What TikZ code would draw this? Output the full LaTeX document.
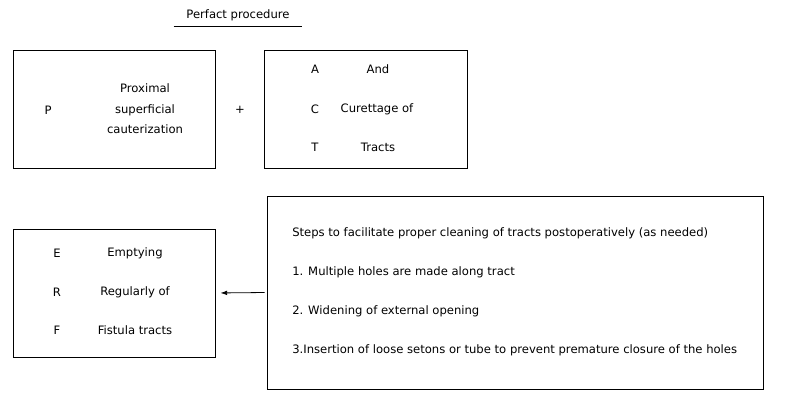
\documentclass[tikz,border=0pt]{standalone}
\usepackage{fontspec}
\setmainfont{DejaVu Sans}
\usetikzlibrary{positioning, arrows.meta}

\begin{document}
\begin{tikzpicture}[x=0.75pt, y=-0.75pt]
    \tikzset{%
        procbox/.style={draw, line width=0.7pt, inner sep=0pt},
        lbl/.style={font=\fontsize{8.7pt}{15.4pt}\selectfont, inner sep=0pt, align=center},
        steptxt/.style={lbl, anchor=west},
    }
    \useasboundingbox (0, 0) rectangle (800, 402);

    % title
    \node [lbl, inner xsep=9.4pt, inner ysep=4pt] (title) at (238, 15) {Perfact procedure};
    \draw [line width=0.6pt] (title.south west) -- (title.south east);

    % PACT boxes
    \node [procbox, minimum width=151.5pt, minimum height=88.5pt] (pbox) at (114, 109) {};
    \node [procbox, minimum width=152.25pt, minimum height=88.5pt] (actbox) at (365.5, 109) {};
    \node [lbl] (plus) at (240, 110) {+};

    \node [lbl] (pl) at (48, 110) {P};
    \node [lbl] (pt) at (145, 109) {Proximal\\superficial\\cauterization};

    \node [lbl] (al) at (315, 69) {A};
    \node [lbl] (at) at (378, 69) {And};
    \node [lbl] (cl) at (315, 109) {C};
    \node [lbl] (ct) at (377, 109) {Curettage of};
    \node [lbl] (tl) at (315, 147) {T};
    \node [lbl] (tt) at (378, 147) {Tracts};

    % ERF box
    \node [procbox, minimum width=151.5pt, minimum height=96pt] (erfbox) at (114, 293) {};
    \node [lbl] (el) at (57, 253) {E};
    \node [lbl] (et) at (135, 253) {Emptying};
    \node [lbl] (rl) at (57, 292) {R};
    \node [lbl] (rt) at (135, 292) {Regularly of};
    \node [lbl] (fl) at (57, 330) {F};
    \node [lbl] (ft) at (135, 330) {Fistula tracts};

    % steps box
    \node [procbox, minimum width=372pt, minimum height=144.75pt] (stepsbox) at (515, 292.5) {};
    \node [steptxt] (s0) at (292, 233) {Steps to facilitate proper cleaning of tracts postoperatively (as needed)};
    \node [steptxt] (s1) at (292, 272) {1. Multiple holes are made along tract};
    \node [steptxt] (s2) at (292, 311) {2. Widening of external opening};
    \node [steptxt] (s3) at (292, 350) {3.Insertion of loose setons or tube to prevent premature closure of the holes};

    \draw [-{Latex[length=5pt, width=3.5pt]}, line width=0.6pt, shorten <=1.5pt, shorten >=3.75pt] (stepsbox.west) -- (erfbox.east);
\end{tikzpicture}
\end{document}
